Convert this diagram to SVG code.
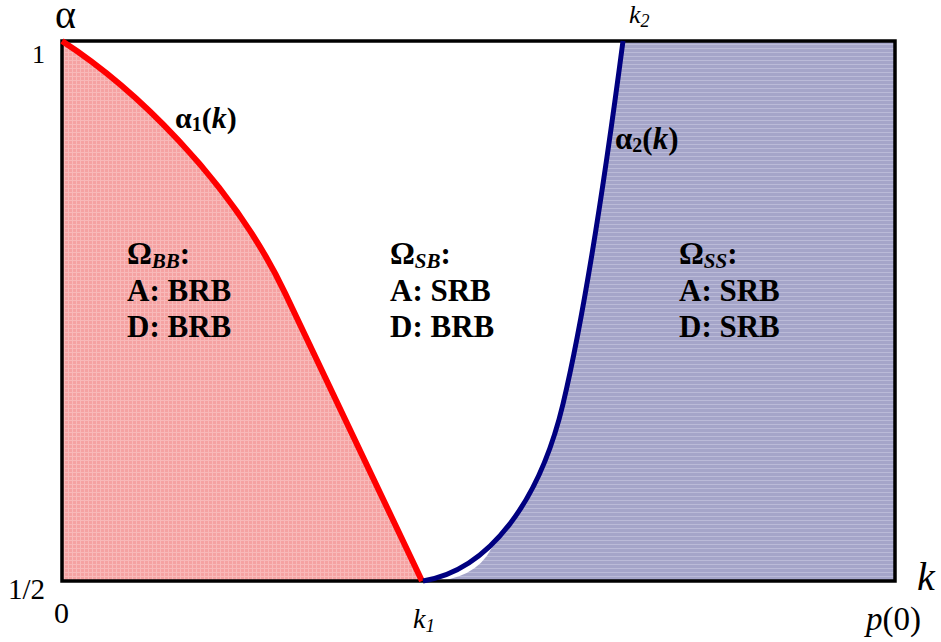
<svg xmlns="http://www.w3.org/2000/svg" width="941" height="642" viewBox="0 0 941 642">
<defs>
<pattern id="redTex" width="4" height="4" patternUnits="userSpaceOnUse">
<rect width="4" height="4" fill="#F5A2A2"/>
<rect width="4" height="1" fill="#F8B9B9"/>
<rect width="1" height="4" fill="#F8B9B9"/>
</pattern>
<pattern id="blueTex" width="4" height="4" patternUnits="userSpaceOnUse">
<rect width="4" height="4" fill="#A5A5C9"/>
<rect width="4" height="1" fill="#BBBBD8"/>
</pattern>
</defs>
<style>
.ax{font-family:"Liberation Serif","Times New Roman",serif;fill:#000}
.it{font-style:italic}
.lb{font-family:"Liberation Serif","Times New Roman",serif;font-weight:bold;font-size:31px;fill:#000}
.cl{font-family:"Liberation Serif","Times New Roman",serif;font-weight:bold;fill:#000}
.sub{font-size:21px;font-style:italic}
.crv{fill:none;stroke-linecap:butt;stroke-linejoin:round}
</style>
<g id="regions">
<path id="omegaBBfill" d="M62,41 C130,85 230,177.5 285,293 L422,581 L62,581 Z" fill="url(#redTex)"/>
<path id="omegaSSfill" d="M623,41 L895,41 L895,581 L440,581 Q482,575 494.6,541.6 C525.7,509.8 549.2,461.6 563,404 C588,299 610,140 623,41 Z" fill="url(#blueTex)"/>
</g>
<g id="frame">
<rect x="62" y="41" width="833" height="540" fill="none" stroke="#000" stroke-width="3.5"/>
</g>
<g id="connectors">
<path id="alpha1" class="crv" d="M62,41 C130,85 230,177.5 285,293 L422,581" stroke="#FF0000" stroke-width="6"/>
<path id="alpha2" class="crv" d="M423,581 C490,570 540,500 563,404 C588,299 610,140 623,41" stroke="#000080" stroke-width="5"/>
</g>
<g id="axis-labels">
<text class="ax" x="55" y="28" font-size="40">α</text>
<text class="ax" x="32" y="63" font-size="26">1</text>
<text class="ax" x="8" y="599" font-size="29">1/2</text>
<text class="ax" x="54" y="623" font-size="30">0</text>
<text class="ax it" x="413" y="628" font-size="28">k<tspan font-size="19" dy="4">1</tspan></text>
<text class="ax it" x="629" y="23" font-size="26">k<tspan font-size="18" dy="4">2</tspan></text>
<text class="ax it" x="917" y="590" font-size="40">k</text>
<text class="ax" x="866" y="630" font-size="33"><tspan font-style="italic">p</tspan>(0)</text>
</g>
<g id="curve-labels">
<text class="cl" x="175" y="128" font-size="30">α<tspan font-size="20" dy="3">1</tspan><tspan dy="-3">(</tspan><tspan font-style="italic">k</tspan>)</text>
<text class="cl" x="615" y="149" font-size="31">α<tspan font-size="20" dy="3">2</tspan><tspan dy="-3">(</tspan><tspan font-style="italic">k</tspan>)</text>
</g>
<g id="node-BB">
<text class="lb" x="127" y="264">Ω<tspan class="sub" dy="4">BB</tspan><tspan dy="-4">:</tspan></text>
<text class="lb" x="127" y="301">A: BRB</text>
<text class="lb" x="127" y="337">D: BRB</text>
</g>
<g id="node-SB">
<text class="lb" x="390" y="264">Ω<tspan class="sub" dy="4">SB</tspan><tspan dy="-4">:</tspan></text>
<text class="lb" x="390" y="301">A: SRB</text>
<text class="lb" x="390" y="337">D: BRB</text>
</g>
<g id="node-SS">
<text class="lb" x="679" y="264">Ω<tspan class="sub" dy="4">SS</tspan><tspan dy="-4">:</tspan></text>
<text class="lb" x="679" y="301">A: SRB</text>
<text class="lb" x="679" y="337">D: SRB</text>
</g>
</svg>
